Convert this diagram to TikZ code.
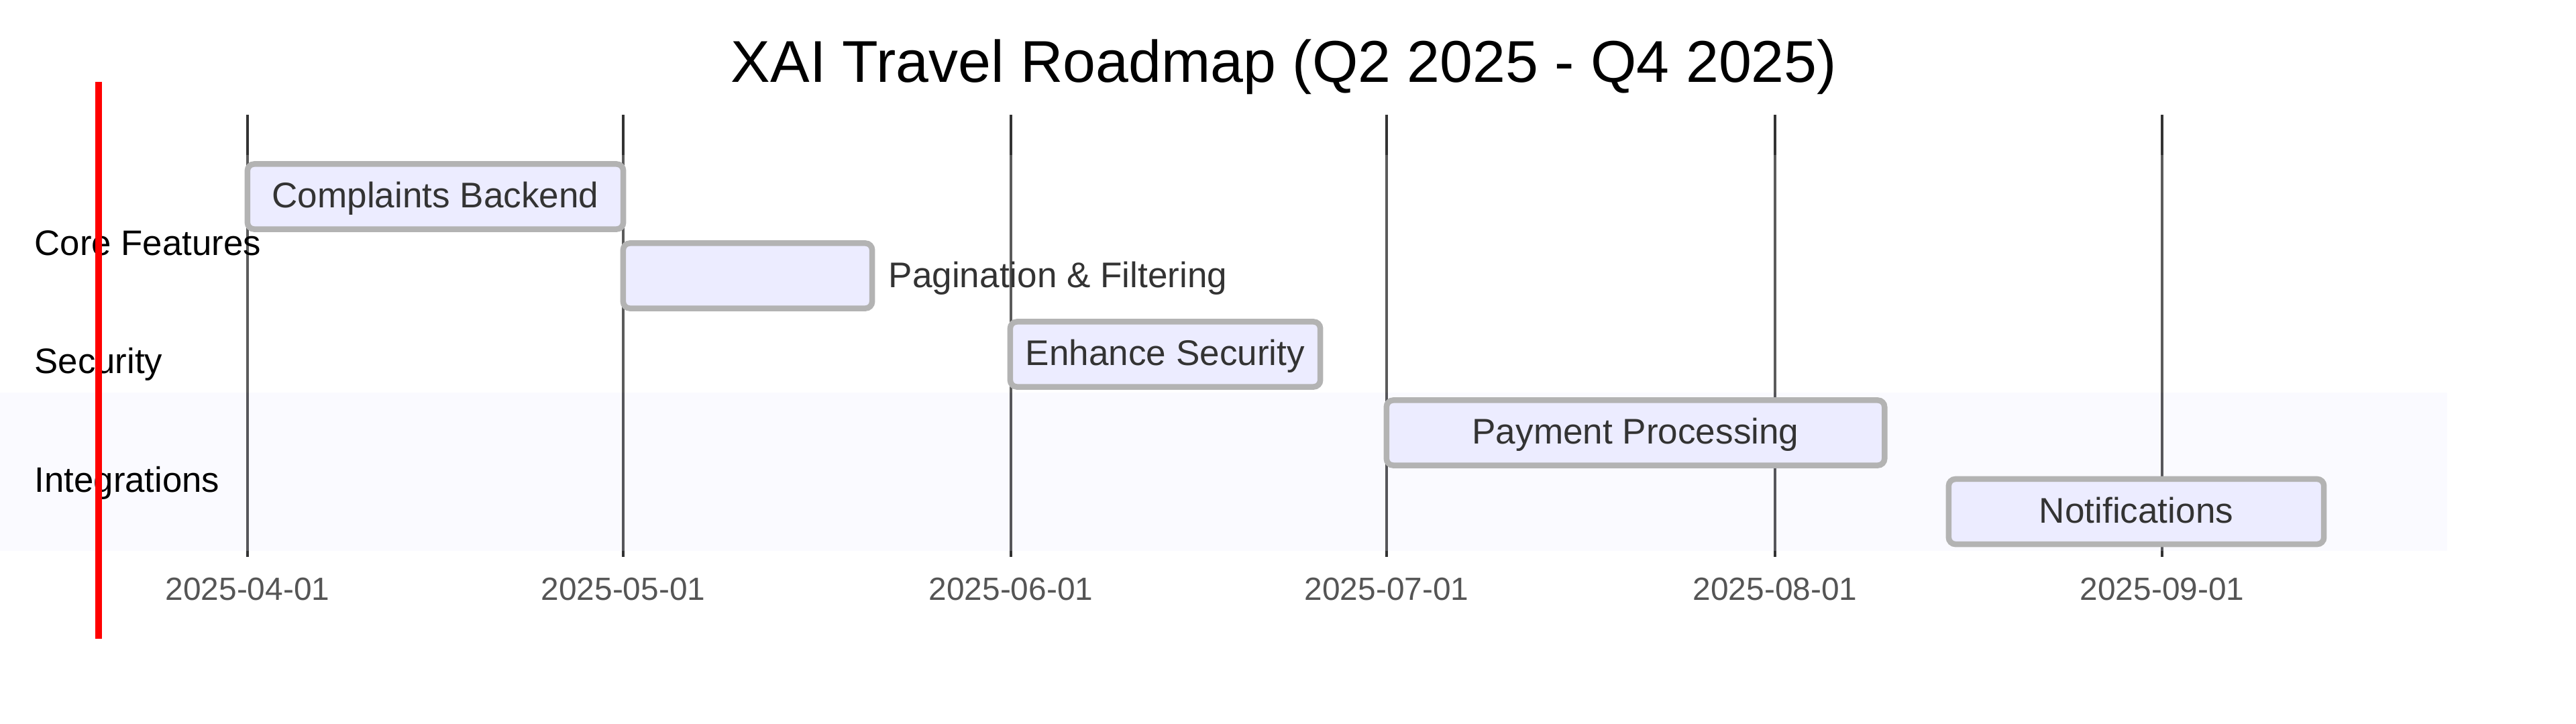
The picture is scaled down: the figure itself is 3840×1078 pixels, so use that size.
\documentclass[tikz,border=0pt]{standalone}
\usepackage{fontspec}
\setmainfont{Liberation Sans}
\usepackage{xcolor}
\usepackage{tikz}
\usetikzlibrary{positioning}
\definecolor{barfill}{HTML}{ECECFF}
\definecolor{barline}{HTML}{B3B3B3}
\definecolor{gridc}{HTML}{333333}
\definecolor{tasktext}{HTML}{333333}
\definecolor{datetext}{HTML}{555555}
\definecolor{bandblue}{HTML}{E6E6FF}
\tikzset{
    taskbar/.style = {rectangle, draw=barline, fill=barfill, line width=0.085cm, rounded corners=0.1cm, inner sep=0pt, minimum height=0.97cm, text=tasktext, text height=1.05em, text depth=0.1em, font=\fontsize{15.1}{18}\selectfont},
    outtext/.style = {anchor=base west, inner sep=0pt, text=tasktext, font=\fontsize{15.1}{18}\selectfont},
    secnode/.style = {anchor=base west, inner sep=0pt, text=black, font=\fontsize{15}{18}\selectfont},
    datenode/.style = {anchor=base, inner sep=0pt, text=datetext, font=\fontsize{13.6}{16}\selectfont},
}

\begin{document}
\begin{tikzpicture}[
	x=0.01cm,
	y=-0.01cm
]
\tikzset{
    gridl/.style = {draw=gridc, line width=0.04cm},
    bandw/.style = {fill=white, fill opacity=0.2},
    bandb/.style = {fill=bandblue, fill opacity=0.2},
    today/.style = {draw=red, line width=0.1cm},
}
\useasboundingbox (0,0) rectangle (3840,1078);
% title
\node[anchor=base, inner sep=0pt, font=\fontsize{25}{30}\selectfont] at (1914,122) (title) {XAI Travel Roadmap (Q2 2025 - Q4 2025)};
% grid
\draw[gridl] (369,171) -- (369,830);
\draw[gridl] (929,171) -- (929,830);
\draw[gridl] (1507,171) -- (1507,830);
\draw[gridl] (2067,171) -- (2067,830);
\draw[gridl] (2646,171) -- (2646,830);
\draw[gridl] (3223,171) -- (3223,830);
% section bands
\fill[bandw] (0,231) rectangle (3648,467);
\fill[bandw] (0,467) rectangle (3648,585);
\fill[bandb] (0,585) rectangle (3648,821);
% dates
\node[datenode] at (369,894) (d1) {2025-04-01};
\node[datenode] at (929,894) (d2) {2025-05-01};
\node[datenode] at (1507,894) (d3) {2025-06-01};
\node[datenode] at (2067,894) (d4) {2025-07-01};
\node[datenode] at (2646,894) (d5) {2025-08-01};
\node[datenode] at (3223,894) (d6) {2025-09-01};
% tasks
\node[taskbar, minimum width=5.60cm] at (649,293) (t1) {Complaints Backend};
\node[taskbar, minimum width=3.71cm] at (1114.5,411) (t2) {};
\node[outtext] at (1324,428) (l2) {Pagination \& Filtering};
\node[taskbar, minimum width=4.62cm] at (1737,528) (t3) {Enhance Security};
\node[taskbar, minimum width=7.42cm] at (2438,645) (t4) {Payment Processing};
\node[taskbar, minimum width=5.59cm] at (3184.5,762.5) (t5) {Notifications};
% sections
\node[secnode] at (51,380) (s1) {Core Features};
\node[secnode] at (51,556) (s2) {Security};
\node[secnode] at (51,733) (s3) {Integrations};
% today marker
\draw[today] (146.7,122) -- (146.7,952);

\end{tikzpicture}
\end{document}
